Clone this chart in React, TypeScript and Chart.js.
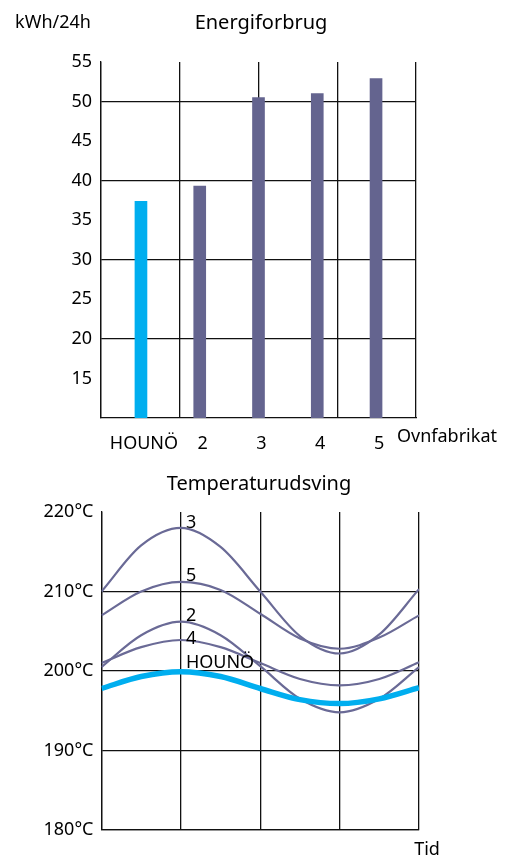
import React, { useEffect, useRef } from "react";
import { Chart, registerables } from "chart.js";

Chart.register(...registerables);

// ---------- data ----------
const manufacturers = ["HOUNÖ", "2", "3", "4", "5"];
const energyValues = [37.4, 39.3, 50.5, 51.0, 52.9];
const energyTicks = [15, 20, 25, 30, 35, 40, 45, 50, 55];
const energyGridLines = [20, 30, 40, 50];

const timeSteps = [0, 0.5, 1, 1.5, 2, 2.5, 3, 3.5, 4];
const tempHouno = [197.8, 199.3, 199.9, 199.3, 197.8, 196.4, 195.9, 196.5, 197.9];
const temp3 = [210.0, 215.8, 218.0, 215.6, 210.0, 204.4, 202.2, 204.6, 210.3];
const temp5 = [207.0, 210.0, 211.2, 210.2, 207.2, 204.1, 202.8, 204.2, 207.0];
const temp2 = [200.5, 204.5, 206.2, 204.5, 200.6, 196.5, 194.8, 196.5, 200.5];
const temp4 = [201.0, 203.0, 203.9, 203.0, 201.0, 199.0, 198.2, 199.0, 201.1];
const tempTicks = [180, 190, 200, 210, 220];

const CYAN = "#00AEEF";
const PURPLE = "#64648F";
const LINE_PURPLE = "#6A6A96";
const GRID = "#111111";
const FONT_FAMILY = "'Noto Sans', 'Open Sans', sans-serif";
const FONT = { family: FONT_FAMILY, size: 18 };

function drawText(
  ctx: CanvasRenderingContext2D,
  text: string,
  x: number,
  y: number,
  align: CanvasTextAlign,
  baseline: CanvasTextBaseline = "middle",
  size = 18
) {
  ctx.save();
  ctx.font = `${size}px ${FONT_FAMILY}`;
  ctx.fillStyle = "#000";
  ctx.textAlign = align;
  ctx.textBaseline = baseline;
  ctx.fillText(text, x, y);
  ctx.restore();
}

function EnergyChart() {
  const ref = useRef<HTMLCanvasElement | null>(null);
  useEffect(() => {
    if (!ref.current) return;
    const textPlugin = {
      id: "energyText",
      afterDraw(chart: any) {
        const ctx = chart.ctx;
        drawText(ctx, "kWh/24h", 53, 23, "center", "middle", 18);
        drawText(ctx, "Energiforbrug", 261, 23, "center", "middle", 20);
        drawText(ctx, "Ovnfabrikat", 397, 437, "left", "middle", 18);
      },
    };
    const chart = new Chart(ref.current, {
      type: "bar",
      data: {
        datasets: [
          {
            data: energyValues.map((v, i) => ({ x: i, y: v })),
            backgroundColor: manufacturers.map((_, i) => (i === 0 ? CYAN : PURPLE)),
            barThickness: 12,
            xAxisID: "x",
            yAxisID: "y",
          } as any,
        ],
      },
      options: {
        animation: false,
        responsive: true,
        maintainAspectRatio: false,
        layout: { padding: { left: 0, right: 89, top: 62, bottom: 0 } },
        plugins: { legend: { display: false }, tooltip: { enabled: false }, title: { display: false } },
        scales: {
          x: {
            type: "linear",
            min: -0.68,
            max: 4.68,
            offset: false,
            position: "bottom",
            afterBuildTicks: (ax: any) => {
              ax.ticks = manufacturers.map((_, i) => ({ value: i }));
            },
            afterFit: (ax: any) => {
              ax.height = 42;
            },
            ticks: {
              color: "#000",
              font: FONT,
              padding: 7,
              labelOffset: 3,
              maxRotation: 0,
              autoSkip: false,
              callback: (v: any) => manufacturers[v] ?? "",
            },
            grid: { display: false, offset: false },
            border: { display: true, color: GRID, width: 1.3 },
          },
          x2: {
            type: "linear",
            min: 0,
            max: 4,
            offset: false,
            position: "bottom",
            afterFit: (ax: any) => {
              ax.height = 0;
            },
            ticks: { display: false, stepSize: 1 },
            grid: { color: GRID, lineWidth: 1.3, drawTicks: false, offset: false },
            border: { display: false },
          },
          y: {
            type: "linear",
            min: 10,
            max: 55,
            afterBuildTicks: (ax: any) => {
              ax.ticks = energyTicks.map((v) => ({ value: v }));
            },
            afterFit: (ax: any) => {
              ax.width = 101;
            },
            ticks: { color: "#000", font: FONT, padding: 9 },
            grid: {
              drawTicks: false,
              lineWidth: 1.3,
              color: (c: any) => (energyGridLines.includes(c.tick?.value) ? GRID : "rgba(0,0,0,0)"),
            },
            border: { display: true, color: GRID, width: 1.3 },
          },
        },
      } as any,
      plugins: [textPlugin],
    });
    return () => chart.destroy();
  }, []);
  return (
    <div style={{ position: "absolute", left: 0, top: 0, width: 505, height: 460 }}>
      <canvas ref={ref} />
    </div>
  );
}

function TempChart() {
  const ref = useRef<HTMLCanvasElement | null>(null);
  useEffect(() => {
    if (!ref.current) return;
    const labelOffsets: Record<string, number> = { "HOUNÖ": -4, "3": 0, "5": -1, "2": -1, "4": 4 };
    const textPlugin = {
      id: "tempText",
      afterDraw(chart: any) {
        const ctx = chart.ctx;
        drawText(ctx, "Temperaturudsving", 259, 24, "center", "middle", 20);
        drawText(ctx, "Tid", 427, 390, "center", "middle", 18);
        chart.data.datasets.forEach((ds: any, i: number) => {
          const meta = chart.getDatasetMeta(i);
          const pt = meta.data[2];
          if (!pt) return;
          drawText(ctx, ds.label, pt.x + 5, pt.y + (labelOffsets[ds.label] ?? 0), "left", "alphabetic", 18);
        });
      },
    };
    const mk = (label: string, vals: number[], color: string, width: number) => ({
      label,
      data: timeSteps.map((x, i) => ({ x, y: vals[i] })),
      borderColor: color,
      borderWidth: width,
      pointRadius: 0,
      fill: false,
      cubicInterpolationMode: "monotone",
    });
    const chart = new Chart(ref.current, {
      type: "line",
      data: {
        datasets: [
          mk("HOUNÖ", tempHouno, CYAN, 5.5),
          mk("3", temp3, LINE_PURPLE, 2.2),
          mk("5", temp5, LINE_PURPLE, 2.2),
          mk("2", temp2, LINE_PURPLE, 2.2),
          mk("4", temp4, LINE_PURPLE, 2.2),
        ] as any,
      },
      options: {
        animation: false,
        responsive: true,
        maintainAspectRatio: false,
        layout: { padding: { left: 0, right: 86, top: 52, bottom: 0 } },
        plugins: { legend: { display: false }, tooltip: { enabled: false }, title: { display: false } },
        scales: {
          x: {
            type: "linear",
            min: 0,
            max: 4,
            afterFit: (ax: any) => {
              ax.height = 28;
            },
            ticks: { display: false, stepSize: 1 },
            grid: { color: GRID, lineWidth: 1.3, drawTicks: false },
            border: { display: true, color: GRID, width: 1.3 },
          },
          y: {
            type: "linear",
            min: 180,
            max: 220,
            afterBuildTicks: (ax: any) => {
              ax.ticks = tempTicks.map((v) => ({ value: v }));
            },
            afterFit: (ax: any) => {
              ax.width = 101.5;
            },
            ticks: { color: "#000", font: FONT, padding: 8, callback: (v: any) => `${v}°C` },
            grid: {
              drawTicks: false,
              lineWidth: 1.3,
              color: (c: any) => (c.tick?.value === 220 ? "rgba(0,0,0,0)" : GRID),
            },
            border: { display: true, color: GRID, width: 1.3 },
          },
        },
      } as any,
      plugins: [textPlugin],
    });
    return () => chart.destroy();
  }, []);
  return (
    <div style={{ position: "absolute", left: 0, top: 460, width: 505, height: 398 }}>
      <canvas ref={ref} />
    </div>
  );
}

export default function App() {
  return (
    <div style={{ position: "absolute", left: 0, top: 0, width: 505, height: 858, background: "#fff" }}>
      <EnergyChart />
      <TempChart />
    </div>
  );
}
